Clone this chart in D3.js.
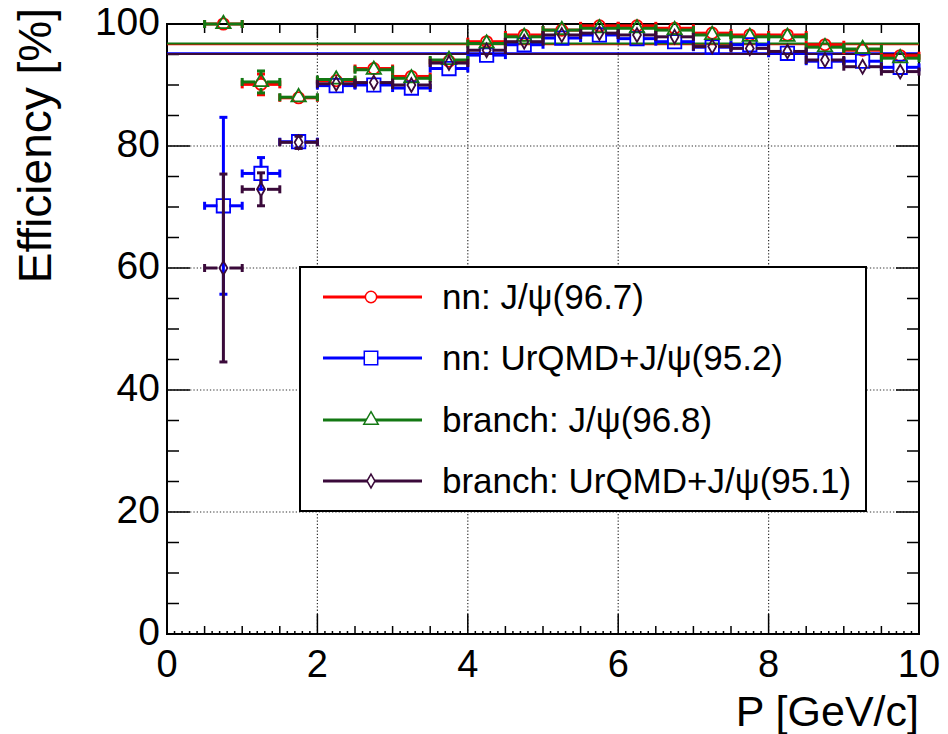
<!DOCTYPE html>
<html>
<head>
<meta charset="utf-8">
<script src="https://cdn.jsdelivr.net/npm/d3@7"></script>
<style>
  body { margin: 0; background: #fff; }
  text { font-family: "Liberation Sans", Arial, Helvetica, sans-serif; }
</style>
</head>
<body>
<svg id="chart"></svg>
<script>
var binCenters = [0.75, 1.25, 1.75, 2.25, 2.75, 3.25, 3.75, 4.25, 4.75, 5.25, 5.75, 6.25, 6.75, 7.25, 7.75, 8.25, 8.75, 9.25, 9.75];
var binHalf = 0.25;

var nnJpsi      = [100, 90.1, 87.9, 90.7, 92.7, 91.4, 93.9, 97.1, 98.2, 99.0, 99.7, 99.7, 99.3, 98.5, 98.2, 98.2, 96.6, 95.7, 94.8];
var nnJpsiErr   = [0, 1.7, 0.5, 0.4, 0.4, 0.4, 0.3, 0.3, 0.3, 0.2, 0.2, 0.2, 0.2, 0.3, 0.3, 0.3, 0.4, 0.4, 0.4];
var nnUrqmd     = [70.2, 75.5, 80.7, 89.9, 90.0, 89.5, 92.7, 94.9, 96.6, 97.7, 98.2, 97.6, 97.1, 96.2, 96.6, 95.2, 93.9, 93.9, 92.9];
var nnUrqmdErr  = [14.5, 2.6, 1.0, 0.5, 0.5, 0.5, 0.4, 0.4, 0.3, 0.3, 0.3, 0.3, 0.3, 0.3, 0.3, 0.4, 0.4, 0.4, 0.4];
var brJpsi      = [100, 90.5, 88.0, 90.9, 92.5, 91.1, 94.1, 96.8, 97.9, 99.0, 99.3, 99.3, 99.0, 98.2, 97.9, 97.9, 96.2, 95.9, 94.4];
var brJpsiErr   = [0, 1.8, 0.5, 0.4, 0.4, 0.4, 0.3, 0.3, 0.3, 0.2, 0.2, 0.2, 0.2, 0.3, 0.3, 0.3, 0.4, 0.4, 0.4];
var brUrqmd     = [60.0, 72.9, 80.6, 90.2, 90.4, 90.0, 93.6, 95.7, 97.1, 98.2, 98.5, 98.2, 97.9, 96.3, 96.0, 95.5, 94.1, 93.0, 92.2];
var brUrqmdErr  = [15.4, 2.7, 1.0, 0.5, 0.5, 0.5, 0.4, 0.4, 0.3, 0.3, 0.3, 0.3, 0.3, 0.3, 0.3, 0.4, 0.4, 0.4, 0.4];

var seriesNames = ["nn: J/\u03c8(96.7)", "nn: UrQMD+J/\u03c8(95.2)", "branch: J/\u03c8(96.8)", "branch: UrQMD+J/\u03c8(95.1)"];
var seriesMeans = [96.7, 95.2, 96.8, 95.1];
var seriesColors = ["#ff0000", "#0000ff", "#137813", "#3a0a3a"];
var seriesMarkers = ["circle", "square", "triangle", "diamond"];

var yTicks = [0, 20, 40, 60, 80, 100];
var xTicks = [0, 2, 4, 6, 8, 10];

var width = 948,
    height = 734;

var x = d3.scaleLinear().domain([0, 10]).range([167, 919]);
var y = d3.scaleLinear().domain([0, 100]).range([634, 24]);

var svg = d3.select("#chart")
    .attr("width", width)
    .attr("height", height);

var series = [
  {name: seriesNames[0], mean: seriesMeans[0], color: seriesColors[0], marker: seriesMarkers[0], vals: nnJpsi, errs: nnJpsiErr},
  {name: seriesNames[1], mean: seriesMeans[1], color: seriesColors[1], marker: seriesMarkers[1], vals: nnUrqmd, errs: nnUrqmdErr},
  {name: seriesNames[2], mean: seriesMeans[2], color: seriesColors[2], marker: seriesMarkers[2], vals: brJpsi, errs: brJpsiErr},
  {name: seriesNames[3], mean: seriesMeans[3], color: seriesColors[3], marker: seriesMarkers[3], vals: brUrqmd, errs: brUrqmdErr}
];

function markerPath(kind) {
  if (kind == "circle") return d3.symbol().type(d3.symbolCircle).size(100)();
  if (kind == "square") return d3.symbol().type(d3.symbolSquare).size(180)();
  if (kind == "triangle") return d3.symbol().type(d3.symbolTriangle).size(90)();
  return d3.symbol().type(d3.symbolDiamond).size(55)();
}

// grid
var grid = svg.append("g")
    .style("stroke", "#333")
    .style("stroke-width", 1.2)
    .style("stroke-dasharray", "1.3,2");
grid.selectAll(".gy")
    .data(yTicks.slice(1, -1))
  .enter().append("line")
    .attr("x1", x(0)).attr("x2", x(10))
    .attr("y1", function(d) { return y(d); })
    .attr("y2", function(d) { return y(d); });
grid.selectAll(".gx")
    .data(xTicks.slice(1, -1))
  .enter().append("line")
    .attr("y1", y(0)).attr("y2", y(100))
    .attr("x1", function(d) { return x(d); })
    .attr("x2", function(d) { return x(d); });

// ticks
var ticks = svg.append("g").style("stroke", "#000").style("stroke-width", 1.5);
d3.range(0, 101, 5).forEach(function(v) {
  var len = (v % 20 == 0) ? 23 : 12;
  ticks.append("line").attr("x1", x(0)).attr("x2", x(0) + len).attr("y1", y(v)).attr("y2", y(v));
  ticks.append("line").attr("x1", x(10)).attr("x2", x(10) - len).attr("y1", y(v)).attr("y2", y(v));
});
d3.range(0, 101, 1).forEach(function(i) {
  var v = i / 10;
  var len = (i % 20 == 0) ? 20 : (i % 5 == 0 ? 8 : 3);
  ticks.append("line").attr("y1", y(0)).attr("y2", y(0) - len).attr("x1", x(v)).attr("x2", x(v));
  if (i % 5 == 0) {
    var tlen = (i % 20 == 0) ? 14 : 9;
    ticks.append("line").attr("y1", y(100)).attr("y2", y(100) + tlen).attr("x1", x(v)).attr("x2", x(v));
  }
});

// frame
svg.append("rect")
    .attr("x", x(0)).attr("y", y(100))
    .attr("width", x(10) - x(0)).attr("height", y(0) - y(100))
    .style("fill", "none").style("stroke", "#000").style("stroke-width", 2);

// tick labels
svg.selectAll(".ylab")
    .data(yTicks)
  .enter().append("text")
    .attr("x", x(0) - 7)
    .attr("y", function(d) { return y(d) + 11; })
    .attr("text-anchor", "end")
    .style("font-size", "39px")
    .text(function(d) { return d; });

svg.selectAll(".xlab")
    .data(xTicks)
  .enter().append("text")
    .attr("x", function(d) { return x(d); })
    .attr("y", 677)
    .attr("text-anchor", "middle")
    .style("font-size", "38px")
    .text(function(d) { return d; });

svg.append("text")
    .attr("transform", "translate(51,8) rotate(-90)")
    .attr("text-anchor", "end")
    .style("font-size", "46px")
    .text("Efficiency [%]");

svg.append("text")
    .attr("x", x(10))
    .attr("y", 726)
    .attr("text-anchor", "end")
    .style("font-size", "43px")
    .text("P [GeV/c]");

// mean lines
svg.selectAll(".mean")
    .data(series)
  .enter().append("line")
    .attr("x1", x(0)).attr("x2", x(10))
    .attr("y1", function(d) { return y(d.mean); })
    .attr("y2", function(d) { return y(d.mean); })
    .style("stroke", function(d) { return d.color; })
    .style("stroke-width", 2);

// points with error bars
var gap = 6;
series.forEach(function(s) {
  var g = svg.append("g").style("stroke", s.color).style("stroke-width", 3).style("fill", "none");
  binCenters.forEach(function(c, i) {
    var cx = x(c), cy = y(s.vals[i]);
    var xl = x(c - binHalf), xr = x(c + binHalf);
    var yt = y(s.vals[i] + s.errs[i]), yb = y(s.vals[i] - s.errs[i]);
    g.append("line").attr("x1", xl).attr("x2", cx - gap).attr("y1", cy).attr("y2", cy);
    g.append("line").attr("x1", cx + gap).attr("x2", xr).attr("y1", cy).attr("y2", cy);
    g.append("line").attr("x1", xl).attr("x2", xl).attr("y1", cy - 4).attr("y2", cy + 4);
    g.append("line").attr("x1", xr).attr("x2", xr).attr("y1", cy - 4).attr("y2", cy + 4);
    if (cy - yt > gap) {
      g.append("line").attr("x1", cx).attr("x2", cx).attr("y1", yt).attr("y2", cy - gap);
      g.append("line").attr("x1", cx - 4).attr("x2", cx + 4).attr("y1", yt).attr("y2", yt);
    }
    if (yb - cy > gap) {
      g.append("line").attr("x1", cx).attr("x2", cx).attr("y1", cy + gap).attr("y2", yb);
      g.append("line").attr("x1", cx - 4).attr("x2", cx + 4).attr("y1", yb).attr("y2", yb);
    }
    g.append("path")
        .attr("d", markerPath(s.marker))
        .attr("transform", "translate(" + cx + "," + cy + ")")
        .style("stroke-width", 1.8);
  });
});

// legend
var legend = svg.append("g");
legend.append("rect")
    .attr("x", 300).attr("y", 267)
    .attr("width", 566).attr("height", 244)
    .style("fill", "#fff").style("stroke", "#000").style("stroke-width", 2);

var rows = legend.selectAll(".row")
    .data(series)
  .enter().append("g")
    .attr("transform", function(d, i) { return "translate(0," + [297, 358, 420, 481][i] + ")"; });
rows.append("line")
    .attr("x1", 323).attr("x2", 422)
    .style("stroke", function(d) { return d.color; })
    .style("stroke-width", 3);
rows.append("path")
    .attr("d", function(d) { return markerPath(d.marker); })
    .attr("transform", "translate(371,0)")
    .style("fill", "#fff")
    .style("stroke", function(d) { return d.color; })
    .style("stroke-width", 1.5);
rows.append("text")
    .attr("x", 442)
    .attr("y", 12)
    .style("font-size", "35px")
    .text(function(d) { return d.name; });
</script>
</body>
</html>
